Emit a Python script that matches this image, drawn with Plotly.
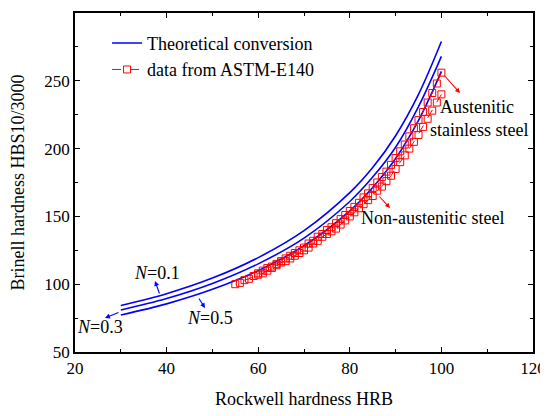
import plotly.graph_objects as go

# ---- data ----
hrb_theory = [30, 40, 50, 60, 70, 80, 85, 90, 95, 100]
hb_n01 = [84.3, 93.0, 104.5, 119.6, 139.5, 167.5, 186.0, 209.5, 240.0, 279.0]
hb_n03 = [81.0, 89.4, 100.5, 115.0, 134.0, 161.0, 179.0, 201.0, 231.0, 268.0]
hb_n05 = [77.3, 85.5, 96.2, 110.0, 128.4, 154.1, 171.3, 192.7, 220.8, 257.0]

hrb_nonaust = list(range(100, 54, -1))
hb_nonaust = [240, 234, 228, 222, 216, 210, 205, 200, 195, 190, 185, 180, 176, 172,
              169, 165, 162, 159, 156, 153, 150, 147, 144, 141, 139, 137, 135, 132,
              130, 127, 125, 123, 121, 119, 117, 116, 114, 112, 110, 108, 107, 106,
              104, 103, 101, 100]

hrb_aust = list(range(100, 59, -1))
hb_aust = [256, 248, 241, 234, 227, 221, 215, 209, 203, 198, 193, 188, 183, 179,
           175, 171, 167, 164, 160, 157, 154, 151, 148, 145, 142, 140, 137, 135,
           132, 130, 127, 125, 123, 121, 119, 117, 115, 113, 112, 110, 108]

x_ticks = [20, 40, 60, 80, 100, 120]
y_ticks = [50, 100, 150, 200, 250, 300]

FONT = "'Liberation Serif', 'Times New Roman', 'DejaVu Serif', serif"
BLUE = "#0000FF"
RED = "#FF0000"

# target plot area in window pixels: x 75..533, y 13..352
def X(px):
    return 20 + (px - 75) / 458 * 100

def Y(py):
    return 50 + (352 - py) / 339 * 250

fig = go.Figure()

for i, ys in enumerate([hb_n01, hb_n03, hb_n05]):
    fig.add_trace(go.Scatter(
        x=hrb_theory, y=ys, mode="lines", line=dict(color=BLUE, width=1.6, shape="spline"),
        name="Theoretical conversion", showlegend=(i == 0), legendgroup="th"))

fig.add_trace(go.Scatter(
    x=hrb_nonaust, y=hb_nonaust, mode="lines+markers", name="data from ASTM-E140",
    line=dict(color=RED, width=1, dash="dash"),
    marker=dict(symbol="square-open", size=7, color=RED, line=dict(width=1, color=RED)),
    legendgroup="d"))
fig.add_trace(go.Scatter(
    x=hrb_aust, y=hb_aust, mode="lines+markers", name="data from ASTM-E140",
    line=dict(color=RED, width=1, dash="dash"),
    marker=dict(symbol="square-open", size=7, color=RED, line=dict(width=1, color=RED)),
    showlegend=False, legendgroup="d"))

def arrow(tail, head, color):
    fig.add_annotation(x=X(head[0]), y=Y(head[1]), ax=X(tail[0]), ay=Y(tail[1]),
                       xref="x", yref="y", axref="x", ayref="y", text="",
                       showarrow=True, arrowhead=2, arrowsize=0.9, arrowwidth=1.1,
                       arrowcolor=color)

def label(px, py, text):
    fig.add_annotation(x=X(px), y=Y(py), xref="x", yref="y", text=text, showarrow=False,
                       font=dict(family=FONT, size=18, color="black"))

arrow((443, 74), (460, 93), RED)
arrow((378, 195), (390, 208), RED)
arrow((160, 295), (155, 281), BLUE)
arrow((198, 297), (205, 308), BLUE)
arrow((120, 312), (105, 318), BLUE)

label(477, 107, "Austenitic")
label(479, 130, "stainless steel")
label(432, 218, "Non-austenitic steel")
label(157, 273, "<i>N</i>=0.1")
label(210, 318, "<i>N</i>=0.5")
label(100, 327, "<i>N</i>=0.3")

axis_common = dict(
    showline=True, linecolor="black", linewidth=1.5, mirror="allticks",
    ticks="inside", ticklen=5, tickwidth=1.2, tickcolor="black",
    showgrid=False, zeroline=False, automargin=False,
    tickfont=dict(family=FONT, size=17, color="black"),
    minor=dict(ticks="inside", ticklen=3, tickwidth=1, tickcolor="black", showgrid=False),
)

fig.update_xaxes(range=[20, 120], tickvals=x_ticks, minor_dtick=10,
                 title=dict(text="Rockwell hardness HRB", font=dict(family=FONT, size=18, color="black")),
                 **axis_common)
fig.update_yaxes(range=[50, 300], tickvals=y_ticks, minor_dtick=25,
                 title=dict(text="Brinell hardness HBS10/3000", font=dict(family=FONT, size=18, color="black")),
                 **axis_common)

# the page adds an 8px body margin, so margins are reduced by 8 on the left/top
fig.update_layout(
    width=548, height=416,
    margin=dict(l=67, r=23, t=5, b=72),
    paper_bgcolor="white", plot_bgcolor="white",
    font=dict(family=FONT, size=17, color="black"),
    legend=dict(x=0.07, y=0.965, xanchor="left", yanchor="top", bgcolor="rgba(0,0,0,0)",
                font=dict(family=FONT, size=18, color="black"), tracegroupgap=0),
    showlegend=True,
)

fig.write_html("out.html")
